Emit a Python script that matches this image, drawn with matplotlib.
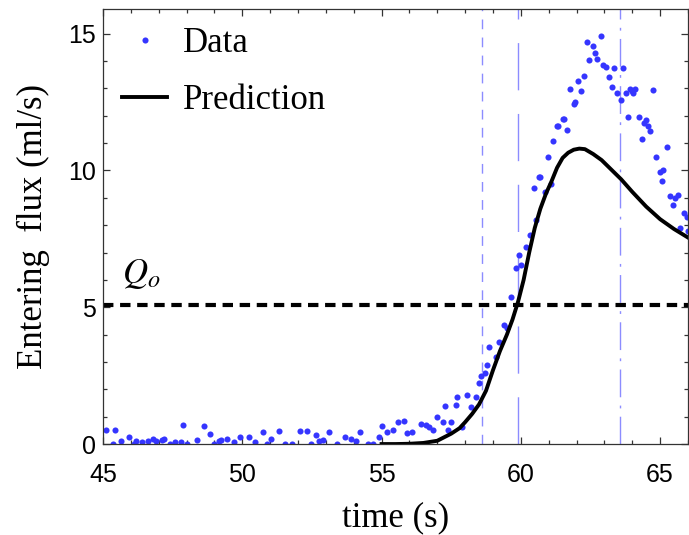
import matplotlib
matplotlib.use("Agg")
import matplotlib.pyplot as plt
from matplotlib.ticker import MultipleLocator

# measured flux (ml/s) vs time (s)
data_t = [45.1, 45.35, 45.43, 45.64, 45.95, 46.1, 46.2, 46.4, 46.6, 46.8, 46.9,
          47.1, 47.2, 47.4, 47.6, 47.8, 47.87, 48.0, 48.37, 48.63, 48.85, 48.97,
          49.15, 49.25, 49.45, 49.7, 49.93, 50.23, 50.47, 50.74, 50.9, 51.04,
          51.33, 51.55, 51.8, 52.09, 52.33, 52.45, 52.63, 52.75, 52.9, 53.1,
          53.4, 53.7, 53.9, 54.1, 54.22, 54.5, 54.7, 54.9, 55.03, 55.2, 55.4,
          55.6, 55.8, 55.9, 56.1, 56.4, 56.6, 56.7, 56.85, 57.0, 57.2, 57.27,
          57.4, 57.5, 57.66, 57.72, 57.9, 58.08, 58.2, 58.4, 58.5, 58.56, 58.7,
          58.8, 58.86, 59.1, 59.22, 59.4, 59.5, 59.64, 59.82, 59.94, 60.0,
          60.18, 60.33, 60.48, 60.56, 60.66, 60.7, 60.86, 60.96, 61.08, 61.17,
          61.3, 61.33, 61.5, 61.55, 61.65, 61.77, 61.9, 61.95, 62.06, 62.16,
          62.28, 62.37, 62.46, 62.58, 62.66, 62.73, 62.88, 62.96, 63.06, 63.18,
          63.27, 63.36, 63.45, 63.58, 63.66, 63.78, 63.86, 63.93, 63.99, 64.04,
          64.1, 64.26, 64.35, 64.43, 64.5, 64.55, 64.62, 64.73, 64.86, 64.98,
          65.06, 65.12, 65.24, 65.37, 65.46, 65.53, 65.64, 65.73, 65.85, 65.97,
          66.0]
data_q = [0.51, 0.0, 0.51, 0.10, 0.27, 0.0, 0.12, 0.06, 0.12, 0.18, 0.12,
          0.15, 0.18, 0.0, 0.06, 0.06, 0.70, 0.0, 0.15, 0.67, 0.37, 0.02,
          0.10, 0.15, 0.18, 0.06, 0.24, 0.24, 0.06, 0.45, 0.0, 0.18,
          0.49, 0.0, 0.0, 0.46, 0.46, 0.0, 0.34, 0.12, 0.16, 0.43,
          0.0, 0.24, 0.18, 0.12, 0.45, 0.0, 0.0, 0.24, 0.67, 0.45, 0.51,
          0.80, 0.85, 0.40, 0.43, 0.73, 0.70, 0.63, 0.51, 1.00, 0.82, 1.39,
          0.51, 0.82, 1.43, 1.73, 0.63, 1.79, 1.37, 1.73, 2.22, 2.49, 2.58,
          2.89, 3.56, 3.17, 3.74, 4.35, 4.23, 5.39, 6.43, 6.92, 6.55,
          7.22, 7.65, 9.36, 8.20, 9.76, 9.76, 9.20, 10.51, 9.51, 11.06,
          11.63, 11.63, 11.88, 11.88, 11.49, 12.98, 12.44, 12.50, 13.28, 12.89,
          13.46, 14.70, 14.05, 14.56, 14.29, 14.07, 14.90, 13.87, 13.77, 13.42,
          13.07, 13.75, 12.83, 12.59, 13.75, 12.85, 11.94, 12.98, 12.90, 12.84,
          12.98, 11.95, 11.16, 11.73, 11.85, 11.61, 11.43, 12.95, 10.51, 9.96,
          9.60, 10.03, 10.86, 9.07, 8.75, 9.00, 9.11, 7.89, 8.46, 8.29,
          7.80]

# model prediction
pred_t = [55.0, 55.5, 56.0, 56.5, 57.0, 57.5, 57.8, 58.0, 58.25, 58.5, 58.75,
          59.0, 59.25, 59.5, 59.7, 59.9, 60.1, 60.3, 60.5, 60.7, 60.9, 61.1,
          61.3, 61.5, 61.7, 61.9, 62.1, 62.3, 62.6, 62.9, 63.2, 63.6, 64.0,
          64.5, 65.0, 65.5, 66.0]
pred_q = [0.0, 0.0, 0.01, 0.04, 0.12, 0.38, 0.58, 0.8, 1.1, 1.45, 1.95,
          2.7, 3.4, 4.0, 4.55, 5.2, 6.0, 7.0, 7.9, 8.6, 9.15, 9.6,
          10.1, 10.46, 10.65, 10.76, 10.8, 10.78, 10.6, 10.38, 10.08, 9.68, 9.22,
          8.68, 8.22, 7.86, 7.55]

Q_o = 5.1
t_marks = [58.6, 59.9, 63.56]

plt.rcParams["mathtext.fontset"] = "stix"
serif = "Liberation Serif"
blue = "#3535ff"
light_blue = "#8c8cff"

fig = plt.figure(figsize=(6.89, 5.35), dpi=100)
ax = fig.add_axes([0.1495, 0.170, 0.849, 0.813])

ax.axvline(t_marks[0], color=light_blue, lw=1.0, dashes=(7, 6))
ax.axvline(t_marks[1], color=light_blue, lw=1.0, dashes=(34, 17))
ax.axvline(t_marks[2], color=light_blue, lw=1.0, dashes=(20, 6, 2, 6))
ax.axhline(Q_o, color="black", lw=3, dashes=(2.5, 1.6))

ax.plot(data_t, data_q, "o", color=blue, ms=4.4, mew=0, label="Data")
ax.plot(pred_t, pred_q, "-", color="black", lw=2.8, label="Prediction")

ax.text(45.68, 5.9, "$Q_o$", fontsize=25, ha="left", va="baseline")

ax.set_xlim(45, 66)
ax.set_ylim(0, 15.9)
ax.xaxis.set_major_locator(MultipleLocator(5))
ax.xaxis.set_minor_locator(MultipleLocator(1))
ax.yaxis.set_major_locator(MultipleLocator(5))
ax.yaxis.set_minor_locator(MultipleLocator(1))
ax.tick_params(which="both", direction="in", top=True, right=True,
               color="#333333", width=0.9)
ax.tick_params(which="major", length=5, labelsize=18, pad=5)
ax.tick_params(which="minor", length=3)
for lab in ax.get_xticklabels() + ax.get_yticklabels():
    lab.set_family("Liberation Sans")
ax.tick_params(axis="x", which="major", pad=14)
for s in ax.spines.values():
    s.set_color("#333333")
    s.set_linewidth(0.9)

ax.set_xlabel("time (s)", family=serif, fontsize=25, labelpad=10)
ax.set_ylabel("Entering  flux (ml/s)", family=serif, fontsize=25, labelpad=13)

ax.legend(loc="upper left", bbox_to_anchor=(0.0325, 0.958), frameon=False,
          prop={"family": serif, "size": 25}, numpoints=1,
          handlelength=1.3, handletextpad=0.46, labelspacing=0.69,
          borderpad=0, borderaxespad=0)

fig.savefig("out.png", dpi=100)
